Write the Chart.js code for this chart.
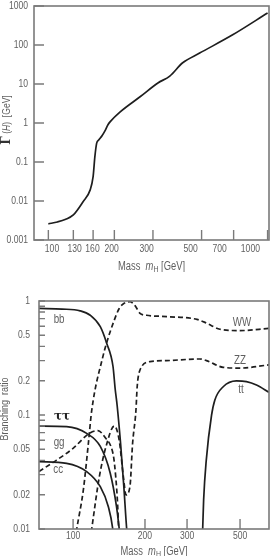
<!DOCTYPE html>
<html><head><meta charset="utf-8">
<script src="https://cdn.jsdelivr.net/npm/chart.js@4.4.1/dist/chart.umd.min.js"></script>
<style>
html,body{margin:0;padding:0;background:#fff;width:272px;height:556px;overflow:hidden}
canvas{position:absolute;left:0}
#c1{top:0;width:272px;height:272px}
#c2{top:272px;width:272px;height:284px}
</style></head><body>
<canvas id="c1" width="272" height="272"></canvas>
<canvas id="c2" width="272" height="284"></canvas>
<script>
// ---------- data: total Higgs width ----------
const widthMass = [100,110,120,130,144,155,160,163,166,170,176,182,187,192,212,262,316,358,410,490,693,1000];
const widthGeV  = [0.0026,0.0029,0.0034,0.0044,0.0096,0.019,0.042,0.137,0.30,0.37,0.48,0.66,0.9,1.1,1.9,4.7,10.6,16,35,62,182,660];
const widthTicksX = [100,130,160,200,300,500,700,1000];
const widthTicksY = [0.001,0.01,0.1,1,10,100,1000];

// ---------- data: branching ratios ----------
const bbMass = [72,90,107,118,130,138,147,150,153,158,163,168,171];
const bbBR   = [0.86,0.85,0.82,0.75,0.595,0.43,0.265,0.17,0.12,0.057,0.024,0.0095,0.007];
const tautauMass = [72,94,114,130,143,152,156,158];
const tautauBR   = [0.080,0.079,0.069,0.053,0.031,0.0157,0.0101,0.008];
const ccMass = [72,94,114,130,140.5,146.5,148];
const ccBR   = [0.039,0.0377,0.0319,0.0235,0.0157,0.0101,0.008];
const ggMass = [72,85,100,117,127,137,144,148,151,153.5,155,156];
const ggBR   = [0.032,0.040,0.051,0.069,0.073,0.0625,0.053,0.042,0.028,0.017,0.0105,0.008];
const wwMass = [102,103.6,110.4,115.9,119.7,134,138.2,148,156,163,173,181.7,190.6,203,247,330,362,412,499,660];
const wwBR   = [0.008,0.01,0.022,0.0565,0.11,0.34,0.43,0.66,0.86,0.95,0.985,0.91,0.78,0.75,0.73,0.69,0.64,0.565,0.55,0.575];
const zzMass = [118,119.7,128.8,137.4,148.8,156,162.4,166.6,173,177.5,183.3,185.5,190.6,210,246,339,362,425,499,660];
const zzBR   = [0.008,0.01,0.0287,0.053,0.080,0.060,0.0287,0.0199,0.0235,0.0565,0.11,0.177,0.248,0.294,0.30,0.31,0.30,0.262,0.258,0.275];
const ttMass = [347.5,348.8,352,361,380,392,425,483,532,586,660];
const ttBR   = [0.008,0.01,0.018,0.04,0.10,0.135,0.177,0.199,0.196,0.183,0.158];
const brTicksX = [100,200,300,500];
const brTicksY = [0.01,0.02,0.05,0.1,0.2,0.5,1];
const brMinorY = [0.03,0.04,0.06,0.07,0.08,0.09,0.3,0.4,0.6,0.7,0.8,0.9];
const seriesNames = ['bb','WW','ZZ','tt','ττ','gg','cc'];
const seriesNameMass = [87.4,509,500,505,89.9,87.4,86.6];
const seriesNameBR   = [0.69,0.65,0.30,0.166,0.096,0.057,0.033];

// ---------- styling ----------
const FONT = "'Liberation Sans Narrow','Liberation Sans',Arial,sans-serif";
const SX = 0.78;            // horizontal condensing of the sans text
const TXT = '#5f5f5f';
const AX = '#7a7a7a';
const INK = '#1e1e1e';

function pts(xs, ys){ return xs.map((x,i)=>({x:x,y:ys[i]})); }
function ds(xs, ys, dashed){
  return {data:pts(xs,ys), borderColor:INK, borderWidth:1.7, pointRadius:0,
    cubicInterpolationMode:'monotone', borderDash: dashed?[5,3]:[], fill:false};
}
// draw text condensed horizontally; align: 'left' | 'center' | 'right'
function textN(ctx, t, x, y, align, font, color, sx){
  sx = sx||SX;
  ctx.save(); ctx.font=font; ctx.fillStyle=color||TXT; ctx.textBaseline='middle'; ctx.textAlign='left';
  const w=ctx.measureText(t).width*sx;
  let x0 = align==='center' ? x-w/2 : align==='right' ? x-w : x;
  ctx.translate(x0,y); ctx.scale(sx,1); ctx.fillText(t,0,0);
  ctx.restore();
  return w;
}
function drawRich(ctx, parts, cx, cy){
  let w=0;
  parts.forEach(p=>{ctx.font=p.f; w+=ctx.measureText(p.t).width*(p.sx||SX);});
  let x=cx-w/2;
  parts.forEach(p=>{x+=textN(ctx,p.t,x,cy+(p.dy||0),'left',p.f,p.c,p.sx||SX);});
}
function massTitle(fs){
  return [{t:'Mass  ',f:fs+'px '+FONT},{t:'m',f:'italic '+fs+'px '+FONT},{t:'H',f:(fs-3)+'px '+FONT,dy:3},{t:' [GeV]',f:fs+'px '+FONT}];
}

function framePlugin(cfg){
  return {id:'frame'+cfg.id, afterDraw(chart){
    const ctx=chart.ctx, a=chart.chartArea, xs=chart.scales.x, ys=chart.scales.y;
    ctx.save();
    ctx.strokeStyle=AX; ctx.lineWidth=1.6;
    ctx.strokeRect(a.left,a.top,a.right-a.left,a.bottom-a.top);
    ctx.lineWidth=1.4;
    ctx.beginPath();
    cfg.yTicks.forEach(v=>{const y=ys.getPixelForValue(v); ctx.moveTo(a.left,y); ctx.lineTo(a.left+cfg.yLen,y);});
    (cfg.yMinor||[]).forEach(v=>{const y=ys.getPixelForValue(v); ctx.moveTo(a.left,y); ctx.lineTo(a.left+cfg.yLen,y);});
    cfg.xTicks.forEach(v=>{const x=xs.getPixelForValue(v); ctx.moveTo(x,a.bottom); ctx.lineTo(x,a.bottom-cfg.xLen);});
    ctx.stroke();
    const f=cfg.fs+'px '+FONT;
    // y tick labels
    cfg.yTicks.forEach(v=>{ textN(ctx,String(v),a.left-cfg.yPad,ys.getPixelForValue(v),'right',f); });
    // x tick labels (the printed labels sit on a slightly compressed spacing)
    cfg.xTicks.forEach(v=>{
      let x=xs.getPixelForValue(v);
      x=a.left+(x-a.left)*cfg.labelSqueeze+cfg.labelShift;
      textN(ctx,String(v),x,a.bottom+cfg.xLabelGap,'center',f);
    });
    // x title
    drawRich(ctx, massTitle(cfg.fs+1), (a.left+a.right)/2, a.bottom+cfg.xTitleGap);
    // y title
    ctx.translate(cfg.yTitleX, (a.top+a.bottom)/2+cfg.yTitleShift);
    ctx.rotate(-Math.PI/2);
    drawRich(ctx, cfg.yTitle, 0, 0);
    ctx.restore();
    if(cfg.extra) cfg.extra(chart);
  }};
}

function yAxis(min,max,ticks,width){
  return {type:'logarithmic', min:min, max:max,
    grid:{display:false, drawTicks:false}, border:{display:false},
    afterBuildTicks:s=>{s.ticks=ticks.map(v=>({value:v}));},
    afterFit:s=>{s.width=width;},
    ticks:{display:false}};
}
function xAxis(min,max,height){
  return {type:'logarithmic', min:min, max:max,
    grid:{display:false, drawTicks:false}, border:{display:false},
    afterFit:s=>{s.height=height;},
    ticks:{display:false}};
}

// ---------- chart 1: total width ----------
new Chart(document.getElementById('c1'), {
  type:'line',
  data:{datasets:[ds(widthMass,widthGeV,false)]},
  options:{responsive:false, animation:false, devicePixelRatio:1,
    layout:{padding:{top:6,right:3,left:0,bottom:0}},
    plugins:{legend:{display:false}, tooltip:{enabled:false}},
    scales:{x:xAxis(86,1015,32), y:yAxis(0.001,1000,widthTicksY,34)}},
  plugins:[framePlugin({id:1, yTicks:widthTicksY, xTicks:widthTicksX, yLen:10, xLen:10, fs:11, yPad:6,
    labelSqueeze:0.905, labelShift:5,
    xLabelGap:9, xTitleGap:27, yTitleX:7, yTitleShift:-3,
    yTitle:[{t:'Γ',f:'bold 12px "DejaVu Serif",serif',c:'#333',sx:1},{t:' (',f:'11px '+FONT},{t:'H',f:'italic 11px '+FONT},{t:')  [GeV]',f:'11px '+FONT}]})]
});

// ---------- chart 2: branching ratios ----------
new Chart(document.getElementById('c2'), {
  type:'line',
  data:{datasets:[
    ds(bbMass,bbBR,false), ds(tautauMass,tautauBR,false), ds(ccMass,ccBR,false),
    ds(ggMass,ggBR,true), ds(wwMass,wwBR,true), ds(zzMass,zzBR,true), ds(ttMass,ttBR,false)]},
  options:{responsive:false, animation:false, devicePixelRatio:1,
    layout:{padding:{top:29,right:3,left:0,bottom:0}},
    plugins:{legend:{display:false}, tooltip:{enabled:false}},
    scales:{x:xAxis(72,661,27), y:yAxis(0.01,1,brTicksY,39)}},
  plugins:[framePlugin({id:2, yTicks:brTicksY, yMinor:brMinorY, xTicks:brTicksX, yLen:6, xLen:10, fs:11, yPad:9,
    labelSqueeze:1, labelShift:0,
    xLabelGap:7, xTitleGap:23, yTitleX:5, yTitleShift:-6,
    yTitle:[{t:'Branching  ratio',f:'11.5px '+FONT}],
    extra:(chart)=>{
      const ctx=chart.ctx, xs=chart.scales.x, ys=chart.scales.y;
      seriesNames.forEach((n,i)=>{
        const x=xs.getPixelForValue(seriesNameMass[i]), y=ys.getPixelForValue(seriesNameBR[i]);
        if(n==='ττ') textN(ctx,n,x,y,'center','bold 12px "DejaVu Serif",serif','#222',1);
        else textN(ctx,n,x,y,'center','12.5px '+FONT,TXT);
      });
    }})]
});
</script>
</body></html>
